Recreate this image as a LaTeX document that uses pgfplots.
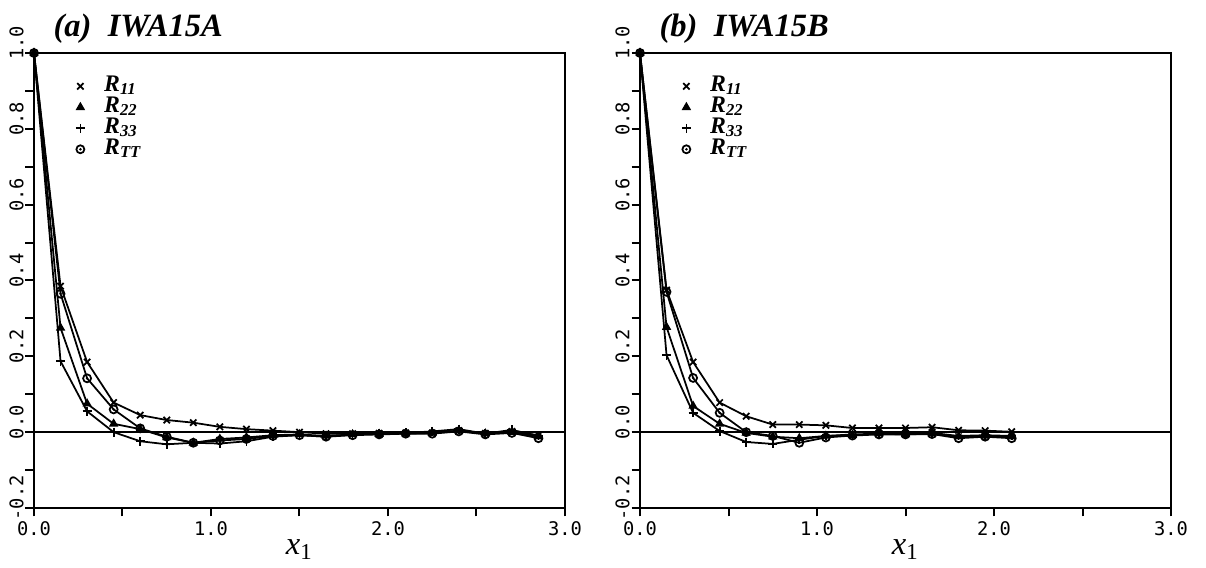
\documentclass[border=0pt]{standalone}
\usepackage{fontspec}
\setmainfont{Liberation Serif}
\setmonofont{DejaVu Sans Mono}
\usepackage{pgfplots}
\usepackage{pgfplotstable}
\pgfplotsset{compat=1.18}

\pgfdeclareplotmark{odot}{%
  \pgfpathcircle{\pgfpointorigin}{\pgfplotmarksize}\pgfusepathqstroke
  \pgfpathcircle{\pgfpointorigin}{0.35\pgfplotmarksize}\pgfusepathqfill}

% panel (a)
\pgfplotstableread{
x    r11    r22    r33    rtt
0.00 1.000  1.000  1.000  1.000
0.15 0.385  0.275  0.187  0.365
0.30 0.185  0.075  0.055  0.142
0.45 0.078  0.022  0.000  0.060
0.60 0.045  0.008  -0.024 0.010
0.75 0.032  -0.014 -0.032 -0.012
0.90 0.025  -0.028 -0.028 -0.028
1.05 0.014  -0.018 -0.030 -0.022
1.20 0.008  -0.014 -0.024 -0.018
1.35 0.004  -0.008 -0.012 -0.010
1.50 0.000  -0.006 -0.008 -0.008
1.65 -0.004 -0.010 -0.012 -0.012
1.80 -0.004 -0.006 -0.006 -0.008
1.95 -0.003 -0.005 -0.004 -0.006
2.10 -0.002 -0.004 -0.002 -0.004
2.25 -0.002 -0.002 0.002  -0.004
2.40 0.004  0.004  0.008  0.002
2.55 -0.003 -0.004 -0.004 -0.006
2.70 0.002  0.000  0.006  -0.002
2.85 -0.008 -0.012 -0.010 -0.016
}\dataA

% panel (b)
\pgfplotstableread{
x    r11    r22    r33    rtt
0.00 1.000  1.000  1.000  1.000
0.15 0.375  0.277  0.203  0.370
0.30 0.185  0.069  0.051  0.143
0.45 0.078  0.022  0.003  0.051
0.60 0.042  -0.002 -0.026 0.000
0.75 0.020  -0.012 -0.031 -0.010
0.90 0.020  -0.016 -0.020 -0.028
1.05 0.018  -0.010 -0.010 -0.014
1.20 0.011  -0.008 -0.006 -0.009
1.35 0.011  -0.004 -0.004 -0.006
1.50 0.011  -0.006 -0.004 -0.006
1.65 0.013  -0.004 -0.002 -0.005
1.80 0.005  -0.012 -0.010 -0.016
1.95 0.004  -0.010 -0.008 -0.012
2.10 0.001  -0.012 -0.010 -0.016
}\dataB

\pgfplotsset{
  corr/.style={
    scale only axis,
    width=212.4pt, height=182pt,
    xmin=0, xmax=3, ymin=-0.2, ymax=1.0,
    axis line style={line width=0.8pt},
    tick align=outside,
    major tick length=3.4pt,
    every tick/.append style={black, line width=0.8pt},
    xtick pos=left, ytick pos=left,
    xtick={0,0.5,1,1.5,2,2.5,3},
    xticklabels={0.0,,1.0,,2.0,,3.0},
    ytick={-0.2,-0.1,0,0.1,0.2,0.3,0.4,0.5,0.6,0.7,0.8,0.9,1.0},
    yticklabels={-0.2,,0.0,,0.2,,0.4,,0.6,,0.8,,1.0},
    ticklabel style={font=\fontsize{7.5}{9}\selectfont\ttfamily},
    yticklabel style={rotate=90, anchor=south, inner sep=0.5pt, xshift=4pt},
    xticklabel style={inner sep=2pt},
    xlabel={\textit{x}\textsubscript{1}},
    xlabel style={font=\fontsize{13}{15}\selectfont, yshift=4pt},
    title style={font=\fontsize{13}{15}\selectfont\bfseries\itshape,
      at={(0.036,1)}, anchor=base west, inner sep=0pt, yshift=0.4pt},
    legend style={at={(0.057,0.962)}, anchor=north west, draw=none, fill=none,
      font=\fontsize{9.5}{9}\selectfont\bfseries\itshape,
      nodes={inner ysep=0pt, text height=6.3pt, text depth=2.1pt},
      row sep=0pt},
    legend cell align=left,
    every axis plot/.append style={black, line width=0.7pt,
      mark options={solid, line width=0.7pt}},
  },
  lgd/.style={only marks, black, line width=0.8pt,
    legend image code/.code={%
      \path (0cm,0cm) (0.35cm,0cm);
      \draw[##1] plot coordinates {(0.1cm,0cm)};}},
}

\begin{document}
\begin{tikzpicture}
\path (-13.6pt,-21.6pt) rectangle (468.8pt,203.2pt);

\begin{axis}[corr, title={(a)\ \ IWA15A}]
  \addplot[forget plot, line width=0.7pt] coordinates {(0,0) (3,0)};
  \addplot[forget plot, mark=x, mark size=1.8pt] table[x=x, y=r11] {\dataA};
  \addplot[forget plot, mark=triangle*, mark size=1.5pt] table[x=x, y=r22] {\dataA};
  \addplot[forget plot, mark=+, mark size=1.8pt] table[x=x, y=r33] {\dataA};
  \addplot[forget plot, mark=odot, mark size=1.6pt] table[x=x, y=rtt] {\dataA};
  \addlegendimage{lgd, mark=x, mark size=1.8pt}
  \addlegendimage{lgd, mark=triangle*, mark size=1.5pt}
  \addlegendimage{lgd, mark=+, mark size=1.8pt}
  \addlegendimage{lgd, mark=odot, mark size=1.6pt}
  \legend{R\textsubscript{11}, R\textsubscript{22}, R\textsubscript{33}, R\textsubscript{TT}}
\end{axis}

\begin{axis}[corr, at={(242.4pt,0)}, title={(b)\ \ IWA15B}]
  \addplot[forget plot, line width=0.7pt] coordinates {(0,0) (3,0)};
  \addplot[forget plot, mark=x, mark size=1.8pt] table[x=x, y=r11] {\dataB};
  \addplot[forget plot, mark=triangle*, mark size=1.5pt] table[x=x, y=r22] {\dataB};
  \addplot[forget plot, mark=+, mark size=1.8pt] table[x=x, y=r33] {\dataB};
  \addplot[forget plot, mark=odot, mark size=1.6pt] table[x=x, y=rtt] {\dataB};
  \addlegendimage{lgd, mark=x, mark size=1.8pt}
  \addlegendimage{lgd, mark=triangle*, mark size=1.5pt}
  \addlegendimage{lgd, mark=+, mark size=1.8pt}
  \addlegendimage{lgd, mark=odot, mark size=1.6pt}
  \legend{R\textsubscript{11}, R\textsubscript{22}, R\textsubscript{33}, R\textsubscript{TT}}
\end{axis}
\end{tikzpicture}
\end{document}
